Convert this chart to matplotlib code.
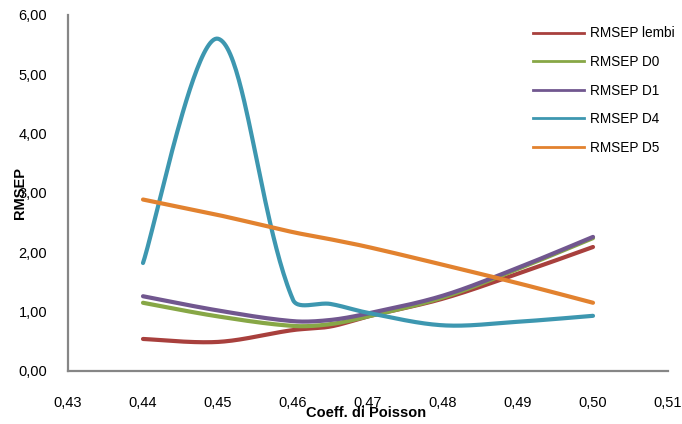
import numpy as np
import matplotlib
matplotlib.use("Agg")
import matplotlib.pyplot as plt
from matplotlib.lines import Line2D

# ---- data ----
poisson = [0.44, 0.45, 0.46, 0.465, 0.47, 0.48, 0.49, 0.50]
rmsep_lembi = [0.54, 0.49, 0.69, 0.75, 0.92, 1.22, 1.64, 2.09]
rmsep_d0 = [1.15, 0.92, 0.76, 0.79, 0.92, 1.24, 1.72, 2.24]
rmsep_d1 = [1.26, 1.02, 0.84, 0.86, 0.97, 1.27, 1.74, 2.26]
rmsep_d4 = [1.82, 5.60, 1.20, 1.13, 0.98, 0.77, 0.83, 0.93]
rmsep_d5 = [2.89, 2.63, 2.34, 2.22, 2.09, 1.79, 1.48, 1.15]

series_names = ["RMSEP lembi", "RMSEP D0", "RMSEP D1", "RMSEP D4", "RMSEP D5"]
series_values = [rmsep_lembi, rmsep_d0, rmsep_d1, rmsep_d4, rmsep_d5]
colors = ["#A8403D", "#87A746", "#71578F", "#3D97B0", "#E2822F"]

x_ticks = [0.43, 0.44, 0.45, 0.46, 0.47, 0.48, 0.49, 0.50, 0.51]
y_ticks = [0, 1, 2, 3, 4, 5, 6]


def smooth(ax, xs, ys, n=50, tension=1.0 / 3.0):
    """Excel-like smoothed line: cubic Bezier, control arms scaled by
    neighbouring segment lengths (computed in display space)."""
    P = ax.transData.transform(np.column_stack([xs, ys]).astype(float))
    m = len(P)
    out = []
    t = np.linspace(0, 1, n)[:, None]
    for i in range(m - 1):
        p0 = P[i - 1] if i > 0 else P[i]
        p1 = P[i]
        p2 = P[i + 1]
        p3 = P[i + 2] if i + 2 < m else P[i + 1]
        d01 = np.linalg.norm(p1 - p0)
        d12 = np.linalg.norm(p2 - p1)
        d23 = np.linalg.norm(p3 - p2)
        f1 = d12 / (d01 + d12) if d01 > 0 else 0.5
        f2 = d12 / (d12 + d23) if d23 > 0 else 0.5
        c1 = p1 + tension * (p2 - p0) * f1
        c2 = p2 - tension * (p3 - p1) * f2
        seg = ((1 - t) ** 3) * p1 + 3 * ((1 - t) ** 2) * t * c1 + 3 * (1 - t) * t ** 2 * c2 + t ** 3 * p2
        out.append(seg if i == 0 else seg[1:])
    arr = ax.transData.inverted().transform(np.vstack(out))
    return arr[:, 0], arr[:, 1]


plt.rcParams['font.family'] = ['Liberation Sans', 'DejaVu Sans']

fig = plt.figure(figsize=(6.82, 4.24), dpi=100)
ax = fig.add_axes([68 / 682, (424 - 371) / 424, 600 / 682, (371 - 15) / 424])
ax.set_xlim(0.43, 0.51)
ax.set_ylim(0, 6)

handles = []
for name, vals, col in zip(series_names, series_values, colors):
    sx, sy = smooth(ax, poisson, vals)
    ax.plot(sx, sy, color=col, lw=3.0, solid_capstyle='round', solid_joinstyle='round')
    handles.append(Line2D([0], [0], color=col, lw=2.0, label=name))

ax.set_xticks(x_ticks)
ax.set_xticklabels([f"{v:.2f}".replace(".", ",") for v in x_ticks])
ax.set_yticks(y_ticks)
ax.set_yticklabels([f"{v:.2f}".replace(".", ",") for v in y_ticks])
ax.tick_params(axis='both', length=0, labelsize=10.5, colors='#000000')
ax.tick_params(axis='x', pad=18)
ax.tick_params(axis='y', pad=15)

for s in ['top', 'right']:
    ax.spines[s].set_visible(False)
for s in ['left', 'bottom']:
    ax.spines[s].set_color('#868686')
    ax.spines[s].set_linewidth(1.6)

ax.set_xlabel("Coeff. di Poisson", fontsize=10.5, fontweight='bold')
ax.xaxis.set_label_coords((366 - 68) / 600, -(413 - 371) / 356, transform=ax.transAxes)
ax.xaxis.label.set_va('center')
ax.set_ylabel("RMSEP", fontsize=10.5, fontweight='bold')
ax.yaxis.set_label_coords(-(68 - 20) / 600, (371 - 193) / 356)
ax.yaxis.label.set_va('center')

leg = fig.legend(handles=handles, loc='upper left', bbox_to_anchor=(528 / 682, 1 - 21 / 424),
                 frameon=False, fontsize=9.8, handlelength=3.7, handletextpad=0.45,
                 labelspacing=1.07, borderaxespad=0)

fig.savefig("out.png", dpi=100)
